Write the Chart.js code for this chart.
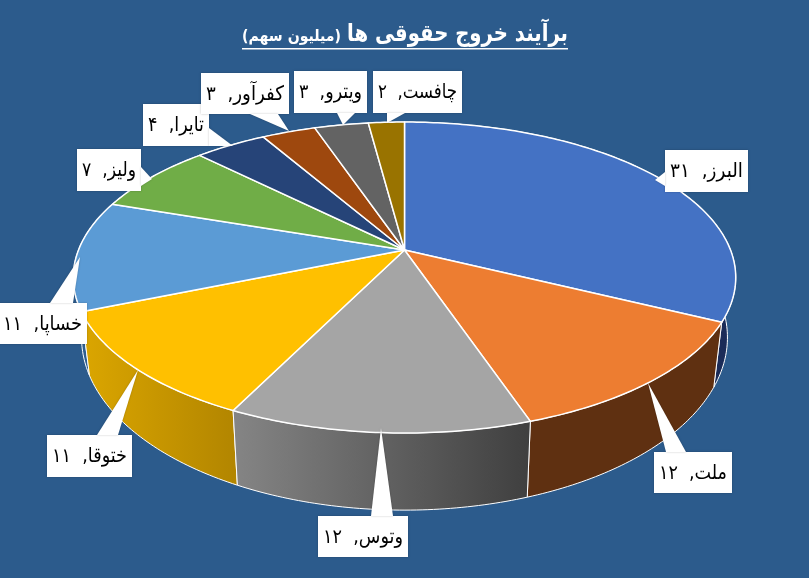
<!DOCTYPE html>
<html>
<head>
<meta charset="utf-8">
<style>
  html, body { margin: 0; padding: 0; background: #2c5b8c; }
  canvas { display: block; }
</style>
<script src="https://cdn.jsdelivr.net/npm/chart.js@4/dist/chart.umd.min.js"></script>
</head>
<body>
<canvas id="pie" width="809" height="578"></canvas>
<script>
// data
const categories = ["البرز", "ملت", "وتوس", "ختوقا", "خساپا", "ولیز", "تایرا", "کفرآور", "ویترو", "چافست"];
const values = [31, 12, 12, 11, 11, 7, 4, 3, 3, 2];
const titleMain = "برآیند خروج حقوقی ها";
const titleUnit = "(میلیون سهم)";

// colours
const topColors = ["#4472c4", "#ed7d31", "#a5a5a5", "#ffc000", "#5b9bd5", "#70ad47", "#264478", "#9e480e", "#636363", "#997300"];
const wallLeft = ["#1b2c58", "#5f3011", "#858585", "#dba600", "#2f5f90", "#3d6128", "#14264a", "#55270a", "#363636", "#534000"];
const wallRight = ["#1b2c58", "#5f3011", "#3f3f3f", "#b38600", "#2f5f90", "#3d6128", "#14264a", "#55270a", "#363636", "#534000"];

// callout layout: box left, top, right, bottom, wedge base and tip
const callouts = [
  { box: [665, 150, 748, 192], base: [[665, 172], [665, 186]], tip: [655, 180] },
  { box: [654, 452, 732, 493], base: [[666, 452], [686, 452]], tip: [648, 383] },
  { box: [318, 516, 408, 557], base: [[371, 516], [393, 516]], tip: [381, 428] },
  { box: [47, 435, 132, 477], base: [[97, 435], [118, 435]], tip: [138, 370] },
  { box: [-2, 303, 87, 344], base: [[50, 303], [73, 303]], tip: [80, 257] },
  { box: [77, 149, 141, 191], base: [[141, 167], [141, 186]], tip: [152, 179] },
  { box: [143, 104, 209, 146], base: [[209, 128], [209, 146]], tip: [233, 146] },
  { box: [201, 73, 289, 114], base: [[250, 114], [278, 114]], tip: [289, 131] },
  { box: [294, 71, 367, 113], base: [[337, 113], [355, 113]], tip: [343, 125] },
  { box: [373, 71, 462, 113], base: [[387, 113], [405, 113]], tip: [387, 123] }
];

// perspective of the disc
const CX = 404.5, CY = 250, RX = 326, RY = 150.6, TILT = 0.177;

function project(a, lower) {
  const u = Math.cos(a), v = Math.sin(a), w = 1 - TILT * v;
  let x = CX + RX * u / w;
  let y = CY + RY * v / w;
  if (lower) {
    x = CX + 0.975 * (x - CX);
    y = CY + 1.11 * (y - CY) + 57;
  }
  return [x, y];
}

function arcPoints(start, end, lower) {
  const n = Math.max(2, Math.ceil((end - start) / 0.015));
  const pts = [];
  for (let i = 0; i <= n; i++) pts.push(project(start + (end - start) * i / n, lower));
  return pts;
}

const persianDigits = n => String(n).replace(/\d/g, d => "۰۱۲۳۴۵۶۷۸۹"[d]);

// replaces the flat arcs with the tilted disc, still using the arc angles
const disc3d = {
  id: "disc3d",
  beforeDatasetsDraw(chart) {
    const ctx = chart.ctx;
    const arcs = chart.getDatasetMeta(0).data;
    const order = arcs.map((a, i) => i)
      .sort((p, q) => Math.sin((arcs[p].startAngle + arcs[p].endAngle) / 2) - Math.sin((arcs[q].startAngle + arcs[q].endAngle) / 2));

    // side walls, far ones first
    order.forEach(i => {
      const top = arcPoints(arcs[i].startAngle, arcs[i].endAngle, false);
      const low = arcPoints(arcs[i].startAngle, arcs[i].endAngle, true).reverse();
      const xs = top.map(p => p[0]);
      const g = ctx.createLinearGradient(Math.min(...xs), 0, Math.max(...xs), 0);
      g.addColorStop(0, wallLeft[i]);
      g.addColorStop(1, wallRight[i]);
      ctx.beginPath();
      top.concat(low).forEach((p, k) => k ? ctx.lineTo(p[0], p[1]) : ctx.moveTo(p[0], p[1]));
      ctx.closePath();
      ctx.fillStyle = g;
      ctx.fill();
      ctx.strokeStyle = "#ffffff";
      ctx.lineWidth = 1;
      ctx.stroke();
    });

    // top face
    arcs.forEach(arc => {
      ctx.beginPath();
      ctx.moveTo(CX, CY);
      arcPoints(arc.startAngle, arc.endAngle, false).forEach(p => ctx.lineTo(p[0], p[1]));
      ctx.closePath();
      ctx.fillStyle = arc.options.backgroundColor;
      ctx.fill();
      ctx.strokeStyle = "#ffffff";
      ctx.lineWidth = 1.5;
      ctx.lineJoin = "round";
      ctx.stroke();
    });
    return false;
  },
  afterDraw(chart) {
    const ctx = chart.ctx;

    // callouts
    callouts.forEach((c, i) => {
      const [l, t, r, b] = c.box;
      ctx.save();
      ctx.shadowColor = "rgba(0,0,0,0.25)";
      ctx.shadowBlur = 2;
      ctx.fillStyle = "#ffffff";
      ctx.fillRect(l, t, r - l, b - t);
      ctx.beginPath();
      ctx.moveTo(c.base[0][0], c.base[0][1]);
      ctx.lineTo(c.tip[0], c.tip[1]);
      ctx.lineTo(c.base[1][0], c.base[1][1]);
      ctx.closePath();
      ctx.fill();
      ctx.restore();

      ctx.fillStyle = "#000000";
      ctx.font = "20px 'DejaVu Sans'";
      ctx.direction = "rtl";
      ctx.textAlign = "center";
      ctx.textBaseline = "middle";
      ctx.fillText(categories[i] + ",  " + persianDigits(values[i]), (l + r) / 2, (t + b) / 2 + 1, r - l - 10);
    });

    // title, two sizes on one underlined line
    ctx.save();
    ctx.direction = "rtl";
    ctx.textAlign = "right";
    ctx.textBaseline = "alphabetic";
    ctx.fillStyle = "#ffffff";
    ctx.font = "bold 24px 'DejaVu Sans'";
    ctx.fillText(titleMain, 568, 41, 221);
    ctx.font = "bold 16px 'DejaVu Sans'";
    ctx.fillText(titleUnit, 341, 41, 99);
    ctx.restore();
    ctx.fillStyle = "#ffffff";
    ctx.fillRect(242, 48, 326, 1.5);
  }
};

new Chart(document.getElementById("pie"), {
  type: "pie",
  data: {
    labels: categories,
    datasets: [{ data: values, backgroundColor: topColors, borderWidth: 0 }]
  },
  options: {
    responsive: false,
    animation: false,
    events: [],
    plugins: {
      legend: { display: false },
      title: { display: false },
      tooltip: { enabled: false }
    }
  },
  plugins: [disc3d]
});
</script>
</body>
</html>
